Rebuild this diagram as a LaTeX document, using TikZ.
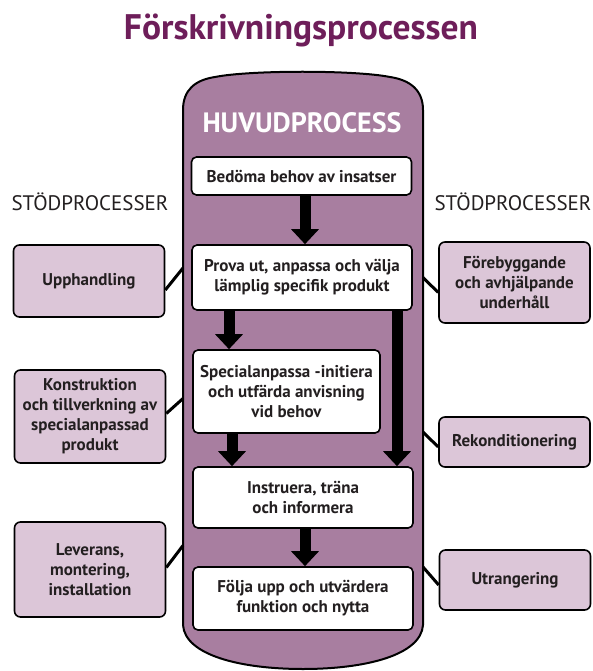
\documentclass[tikz,border=0pt]{standalone}
\usepackage{fontspec}
\setmainfont{PT Sans}
\usetikzlibrary{arrows.meta}
\usetikzlibrary{positioning}
\usetikzlibrary{calc}
\definecolor{capsulefill}{RGB}{168,126,160}
\definecolor{sidefill}{RGB}{220,198,216}
\definecolor{titlecol}{RGB}{110,30,90}
\definecolor{ink}{RGB}{35,31,32}
\tikzset{
  mainbox/.style = {
    draw,
    fill=white,
    line width=1.6pt,
    rounded corners=5pt,
    inner sep=0pt,
    minimum width=220pt,
    align=center,
    text=ink,
    font=\fontsize{17}{20}\selectfont\bfseries
  },
  sidebox/.style = {
    draw,
    fill=sidefill,
    line width=1.6pt,
    rounded corners=6pt,
    inner sep=0pt,
    minimum width=151pt,
    align=center,
    text=ink,
    font=\fontsize{17}{20}\selectfont\bfseries
  },
  flow/.style = {
    -{Triangle[width=27pt,length=15pt]},
    line width=11pt
  },
  link/.style = {
    line width=3pt
  },
  heading/.style = {
    anchor=base,
    text=ink,
    font=\fontsize{21}{24}\selectfont
  },
}

\begin{document}
\begin{tikzpicture}[x=1pt,y=-1pt]
  \useasboundingbox (0,0) rectangle (592,671);

  \node [anchor=base,text=titlecol,font=\fontsize{35.5}{40}\selectfont\bfseries] (title) at (301,40) {Förskrivningsprocessen};

  % the main process capsule
  \draw [line width=2pt,fill=capsulefill]
    (183,625) -- (183,110)
    .. controls (183,90) and (195,80) .. (215,77)
    .. controls (250,70) and (355,70) .. (390,77)
    .. controls (410,80) and (423,90) .. (423,110)
    -- (423,625)
    .. controls (421,655) and (366,669) .. (303,669)
    .. controls (240,669) and (185,655) .. (183,625) -- cycle;
  \coordinate (capL) at (183,0);
  \coordinate (capR) at (423,0);

  \node [anchor=base,text=white,font=\fontsize{28}{32}\selectfont\bfseries] (huvud) at (302,133) {HUVUDPROCESS};

  \node [heading] (stodL) at (90,210) {STÖDPROCESSER};
  \node [heading] (stodR) at (513,210) {STÖDPROCESSER};

  % main steps
  \node [mainbox,minimum height=38pt] (bedoma) at (301.5,176) {Bedöma behov av insatser};
  \node [mainbox,minimum height=65pt] (prova) at (302,277.5) {Prova ut, anpassa och välja\\lämplig specifik produkt};
  \node [mainbox,minimum width=187pt,minimum height=83pt] (special) at (286.5,391.5) {Specialanpassa -initiera\\och utfärda anvisning\\vid behov};
  \node [mainbox,minimum height=61pt] (instruera) at (303,497.5) {Instruera, träna\\och informera};
  \node [mainbox,minimum height=63pt] (folja) at (303,598.5) {Följa upp och utvärdera\\funktion och nytta};

  % support processes
  \node [sidebox,minimum height=72pt] (upphandling) at (89,281) {Upphandling};
  \node [sidebox,minimum height=93pt] (konstruktion) at (90,416.5) {Konstruktion\\och tillverkning av\\specialanpassad\\produkt};
  \node [sidebox,minimum height=95pt] (leverans) at (90,569.5) {Leverans,\\montering,\\installation};
  \node [sidebox,minimum height=81pt] (forebygg) at (514.5,282.5) {Förebyggande\\och avhjälpande\\underhåll};
  \node [sidebox,minimum height=50pt] (rekond) at (514.5,442) {Rekonditionering};
  \node [sidebox,minimum height=60pt] (utrang) at (515,580) {Utrangering};

  % flow arrows
  \coordinate (colA) at (305,0);
  \coordinate (colB) at (229,0);
  \coordinate (colC) at (232,0);
  \coordinate (colD) at (397,0);
  \draw [flow] (bedoma.south -| colA) -- (prova.north -| colA);
  \draw [flow] (prova.south -| colB) -- (special.north -| colB);
  \draw [flow] (special.south -| colC) -- (instruera.north -| colC);
  \draw [flow] (prova.south -| colD) -- (instruera.north -| colD);
  \draw [flow] (instruera.south -| colA) -- (folja.north -| colA);

  % links to the capsule
  \draw [link] ($(upphandling.east)+(0,9)$) -- ($(upphandling.east -| capL)+(0,-13)$);
  \draw [link] ($(konstruktion.east)+(0,-3)$) -- ($(konstruktion.east -| capL)+(0,-18)$);
  \draw [link] ($(leverans.east)+(0,-2)$) -- ($(leverans.east -| capL)+(0,-24)$);
  \draw [link] ($(forebygg.west)+(0,10)$) -- ($(forebygg.west -| capR)+(0,-5)$);
  \draw [link] ($(rekond.west)+(0,5)$) -- ($(rekond.west -| capR)+(0,-10)$);
  \draw [link] ($(utrang.west)+(0,5)$) -- ($(utrang.west -| capR)+(0,-13)$);
\end{tikzpicture}
\end{document}
